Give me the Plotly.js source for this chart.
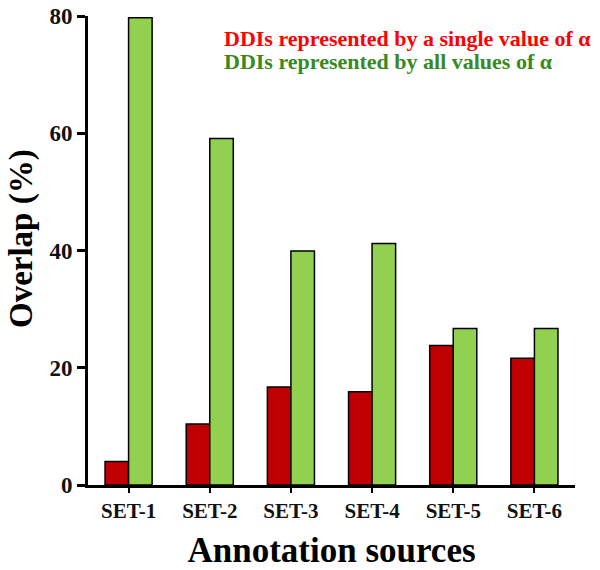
<!DOCTYPE html>
<html>
<head>
<meta charset="utf-8">
<script src="https://cdn.plot.ly/plotly-3.0.1.min.js"></script>
<style>html,body{margin:0;padding:0;background:#fff;}#chart{width:600px;height:570px;}</style>
</head>
<body>
<div id="chart"></div>
<script>
const categories = ["SET-1", "SET-2", "SET-3", "SET-4", "SET-5", "SET-6"];
const singleAlpha = [4.0, 10.4, 16.7, 15.9, 23.8, 21.6];
const allAlpha = [79.7, 59.1, 39.9, 41.2, 26.7, 26.7];
const seriesNames = ["DDIs represented by a single value of α", "DDIs represented by all values of α"];
const yTicks = [0, 20, 40, 60, 80];

const font = "Liberation Serif";

const traces = [
  {type: "bar", x: categories, y: singleAlpha, name: seriesNames[0],
   marker: {color: "#C00000", line: {color: "#000", width: 1.5}}},
  {type: "bar", x: categories, y: allAlpha, name: seriesNames[1],
   marker: {color: "#92D050", line: {color: "#000", width: 1.5}}}
];

const layout = {
  width: 600, height: 570,
  margin: {l: 88, r: 25, t: 16, b: 85},
  paper_bgcolor: "#fff", plot_bgcolor: "#fff",
  barmode: "group", bargap: 0.42, bargroupgap: 0,
  showlegend: false,
  font: {family: font, color: "#000"},
  xaxis: {
    range: [-0.5, 5.5], showgrid: false, zeroline: false,
    showline: true, linecolor: "#000", linewidth: 3,
    ticks: "outside", ticklen: 5, tickwidth: 2, tickcolor: "#000",
    tickfont: {family: font, size: 21, color: "#111", weight: "bold"},
    title: {text: "<b>Annotation sources</b>", font: {family: font, size: 35, color: "#000"}, standoff: 20}
  },
  yaxis: {
    range: [0, 80], tickvals: yTicks, showgrid: false, zeroline: false,
    showline: true, linecolor: "#000", linewidth: 3,
    ticks: "outside", ticklen: 8, tickwidth: 3, tickcolor: "#000",
    tickfont: {family: font, size: 23, color: "#111", weight: "bold"}
  },
  annotations: [
    {xref: "paper", yref: "paper", x: -0.135, y: 0.525, xanchor: "center", yanchor: "middle",
     textangle: -90, showarrow: false, text: "<b>Overlap (%)</b>",
     font: {family: font, size: 33, color: "#000"}},
    {xref: "paper", yref: "paper", x: 0.275, y: 0.952, xanchor: "left", yanchor: "middle",
     showarrow: false, text: "<b>" + seriesNames[0] + "</b>",
     font: {family: font, size: 22, color: "#FF0000", weight: "bold"}},
    {xref: "paper", yref: "paper", x: 0.275, y: 0.903, xanchor: "left", yanchor: "middle",
     showarrow: false, text: "<b>" + seriesNames[1] + "</b>",
     font: {family: font, size: 22, color: "#388A1E", weight: "bold"}}
  ]
};

Plotly.newPlot("chart", traces, layout, {displayModeBar: false, staticPlot: true});
</script>
</body>
</html>
